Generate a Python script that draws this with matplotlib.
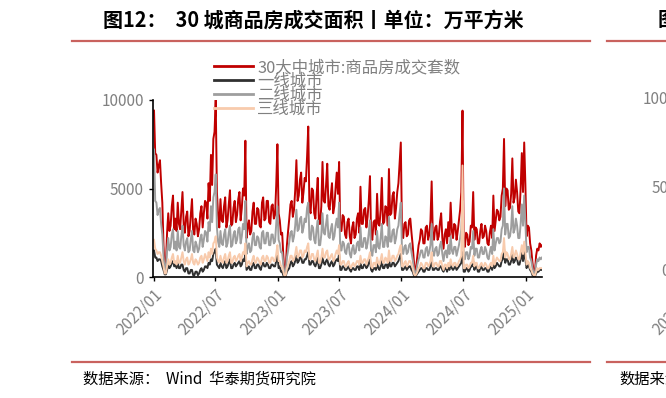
import numpy as np
import pandas as pd
import matplotlib
matplotlib.use("Agg")
import matplotlib.pyplot as plt
import matplotlib.dates as mdates
from matplotlib.lines import Line2D

plt.rcParams['font.family'] = ['Noto Sans CJK SC', 'DejaVu Sans']

series_names = ["30大中城市:商品房成交套数", "一线城市", "二线城市", "三线城市"]

# twice-weekly readings from 2022-01-01, one row per month
city30 = [
    9400, 7000, 6900, 5900, 6300, 6600, 5300, 4200, 1800, 500,
    700, 2500, 3600, 2600, 2900, 4000, 4600, 2700,
    3300, 2600, 4200, 3000, 2700, 3800, 4800, 3000,
    2500, 3400, 3700, 2300, 2600, 3500, 4400, 2600, 2400, 3300,
    3000, 2300, 2700, 3600, 4000, 2800, 3600, 4300,
    4200, 3300, 5300, 4300, 6900, 5200, 7800, 8200,
    10000, 4800, 3500, 2800, 4400, 3200, 3100, 4000, 4500, 2800,
    3200, 4100, 4900, 2900, 3000, 3900, 4300, 3100,
    3500, 4400, 4800, 3200, 3900, 5000, 4600, 7700,
    2200, 2800, 3200, 2400, 2600, 3700, 4200, 3000, 3000, 3900,
    3800, 2900, 2800, 4200, 4500, 3200, 3300, 4300,
    4300, 3100, 3000, 4000, 4100, 3300, 3500, 5200, 7500, 3600,
    # 2023
    3200, 2400, 2500, 1200, 200, 500, 1800, 2600,
    3300, 4100, 4300, 3400, 3800, 4900, 6600, 4300,
    4600, 5500, 5900, 4200, 4800, 5600, 5400, 6800,
    8500, 3800, 3600, 5000, 4900, 3600, 3300, 4600, 5600, 3000,
    3000, 4000, 6500, 4300, 4200, 5200, 6400, 4000,
    3800, 4600, 5300, 3600, 4000, 5000, 5900, 4700,
    6500, 2600, 2600, 3500, 3400, 2400, 2200, 3100, 3300, 2300,
    1900, 2800, 3100, 2200, 2400, 3300, 3600, 2500,
    5100, 3000, 3000, 3800, 3900, 2800, 3400, 4300, 5700, 2300,
    2100, 3100, 3200, 2400, 4700, 3000, 2900, 3800,
    5600, 3000, 3100, 4000, 3900, 2900, 6100, 3500,
    3600, 4600, 4800, 3300, 3900, 4800, 5300, 6400, 7600, 2600,
    # 2024
    2200, 3000, 3100, 2300, 2400, 3200, 3300, 2500,
    1800, 900, 100, 600, 1200, 1800, 2100, 2700,
    2600, 1900, 1900, 2800, 2900, 2100, 2400, 3200, 5400, 2300,
    2100, 2800, 2900, 2100, 2300, 3100, 3600, 2200,
    1600, 2400, 2700, 1900, 3100, 2300, 4200, 2600,
    2200, 3000, 2900, 2100, 2600, 3200, 3800, 4800, 9400, 2000,
    1700, 2500, 2400, 1800, 2000, 2900, 2800, 4800,
    2100, 2800, 2700, 1900, 1900, 2600, 3000, 2200, 2300, 2900,
    2600, 1900, 1800, 2500, 2900, 2200, 4600, 2600,
    3200, 3800, 3700, 3200, 3400, 4600, 5000, 7800,
    4000, 5000, 4900, 3800, 3900, 4700, 6700, 4200, 4500, 5500,
    4800, 3700, 3600, 5000, 7000, 4800, 7600, 5200,
    # 2025
    2300, 2900, 2800, 1900, 1500, 800, 300, 200,
    1200, 1600, 1500, 1900, 1700, 1800,
]

tier1 = [
    1500, 1100, 1100, 900, 1000, 1000, 900, 600, 400, 150,
    150, 400, 700, 500, 600, 800, 900, 600,
    700, 500, 800, 500, 500, 700, 700, 400,
    300, 500, 500, 200, 200, 400, 400, 100, 100, 300,
    300, 100, 200, 400, 500, 300, 400, 600,
    600, 500, 800, 700, 1000, 900, 1300, 1400,
    1600, 700, 600, 500, 800, 600, 500, 700, 900, 500,
    600, 800, 1000, 500, 500, 700, 800, 600,
    700, 800, 900, 600, 700, 1000, 900, 1300,
    400, 500, 600, 400, 400, 700, 800, 500, 500, 700,
    700, 500, 400, 700, 800, 600, 600, 800,
    700, 500, 500, 700, 700, 600, 600, 900, 1300, 500,
    # 2023
    600, 300, 300, 100, 0, 50, 300, 400,
    500, 800, 900, 600, 700, 900, 1200, 800,
    900, 1100, 1100, 800, 800, 1000, 1000, 1200,
    1400, 700, 700, 900, 900, 700, 600, 800, 1100, 500,
    500, 700, 1100, 800, 700, 900, 1000, 700,
    600, 800, 900, 600, 700, 900, 1000, 900,
    1300, 400, 400, 600, 600, 400, 400, 500, 600, 400,
    300, 500, 500, 400, 400, 600, 600, 400,
    800, 500, 500, 700, 700, 500, 600, 800, 1000, 400,
    300, 500, 500, 400, 800, 500, 400, 600,
    900, 500, 500, 700, 700, 500, 1000, 600,
    600, 800, 800, 600, 700, 800, 900, 1100, 1300, 400,
    # 2024
    400, 500, 600, 400, 500, 600, 600, 400,
    300, 100, 0, 100, 200, 300, 400, 500,
    500, 300, 300, 500, 500, 400, 400, 600, 1000, 400,
    400, 500, 500, 400, 400, 600, 600, 400,
    300, 500, 500, 300, 600, 400, 800, 500,
    400, 500, 600, 400, 500, 600, 700, 800, 1400, 300,
    300, 500, 500, 300, 400, 600, 600, 900,
    400, 600, 600, 300, 300, 500, 600, 400, 400, 500,
    500, 300, 300, 500, 600, 400, 900, 500,
    600, 800, 700, 600, 600, 900, 1000, 1600,
    800, 1000, 1000, 700, 700, 900, 1300, 800, 900, 1100,
    1000, 700, 700, 1000, 1400, 900, 1500, 1000,
    # 2025
    500, 700, 600, 400, 300, 100, 50, 30,
    200, 300, 300, 400, 400, 400,
]

tier2 = [
    7200, 4300, 4200, 3500, 3800, 3900, 3000, 2400, 1200, 400,
    500, 1500, 2200, 1500, 1700, 2400, 2700, 1600,
    2000, 1500, 2600, 1700, 1600, 2300, 2900, 1800,
    1500, 2000, 2200, 1400, 1500, 2100, 2600, 1500, 1400, 2000,
    1800, 1400, 1600, 2200, 2400, 1700, 2100, 2600,
    2500, 2000, 3100, 2600, 4000, 3100, 4500, 4800,
    5800, 2800, 2000, 1700, 2600, 1900, 1800, 2400, 2700, 1700,
    1900, 2500, 2900, 1700, 1800, 2400, 2600, 1900,
    2100, 2700, 2800, 1900, 2300, 3000, 2700, 4300,
    1300, 1700, 1900, 1400, 1500, 2200, 2500, 1800, 1800, 2300,
    2200, 1700, 1600, 2500, 2600, 1900, 1900, 2500,
    2500, 1800, 1800, 2400, 2400, 1900, 2000, 3000, 4000, 2100,
    # 2023
    1900, 1400, 1400, 700, 100, 300, 1100, 1500,
    2000, 2500, 2600, 2000, 2300, 2900, 3800, 2600,
    2700, 3300, 3400, 2500, 2800, 3300, 3100, 3900,
    4200, 2200, 2100, 2900, 2800, 2100, 1900, 2700, 3200, 1800,
    1800, 2400, 3600, 2500, 2400, 3000, 3500, 2300,
    2200, 2700, 3000, 2100, 2300, 2900, 3300, 2800,
    4200, 1500, 1500, 2000, 1900, 1400, 1300, 1800, 1900, 1300,
    1100, 1600, 1800, 1300, 1400, 1900, 2000, 1500,
    2800, 1700, 1700, 2200, 2200, 1600, 1900, 2500, 3200, 1300,
    1200, 1800, 1800, 1400, 2600, 1700, 1600, 2200,
    3000, 1700, 1700, 2300, 2200, 1700, 3400, 2000,
    2000, 2600, 2700, 1900, 2200, 2700, 2900, 3600, 4200, 1500,
    # 2024
    1300, 1700, 1800, 1300, 1400, 1800, 1900, 1400,
    1000, 500, 100, 300, 700, 1000, 1200, 1500,
    1500, 1100, 1100, 1600, 1700, 1200, 1400, 1800, 3000, 1300,
    1200, 1600, 1700, 1200, 1300, 1800, 2000, 1300,
    900, 1400, 1500, 1100, 1800, 1300, 2300, 1500,
    1300, 1700, 1700, 1200, 1500, 1800, 2200, 2700, 4300, 1100,
    1000, 1400, 1400, 1000, 1200, 1700, 1600, 2600,
    1200, 1600, 1600, 1100, 1100, 1500, 1700, 1300, 1300, 1700,
    1500, 1100, 1000, 1400, 1700, 1300, 2700, 1500,
    1900, 2200, 2200, 1900, 2000, 2700, 2900, 5000,
    2400, 3000, 3000, 2200, 2300, 2800, 4000, 2500, 2700, 3300,
    2900, 2200, 2200, 3000, 4100, 2900, 4600, 3100,
    # 2025
    1400, 1700, 1700, 1100, 900, 500, 200, 150,
    700, 1000, 900, 1100, 1000, 1100,
]

tier3 = [
    2100, 1600, 1500, 1300, 1400, 1400, 1200, 900, 600, 200,
    200, 600, 1000, 700, 800, 1100, 1300, 800,
    900, 700, 1200, 800, 800, 1100, 1400, 900,
    700, 1000, 1100, 700, 800, 1000, 1300, 800, 700, 1000,
    900, 700, 800, 1100, 1200, 800, 1000, 1300,
    1100, 900, 1400, 1100, 1600, 1300, 1900, 2000,
    2300, 1100, 900, 800, 1200, 900, 800, 1100, 1300, 800,
    900, 1200, 1400, 800, 800, 1100, 1200, 900,
    1000, 1200, 1300, 900, 1100, 1400, 1300, 1900,
    600, 800, 900, 700, 700, 1000, 1200, 800, 800, 1100,
    1000, 800, 700, 1100, 1200, 900, 900, 1200,
    1100, 800, 800, 1100, 1100, 900, 900, 1300, 1800, 900,
    # 2023
    900, 600, 600, 300, 50, 100, 500, 700,
    900, 1200, 1200, 900, 1000, 1300, 1700, 1100,
    1200, 1500, 1500, 1100, 1200, 1500, 1400, 1700,
    1900, 1000, 1000, 1300, 1300, 1000, 900, 1200, 1500, 800,
    800, 1100, 1600, 1100, 1100, 1400, 1500, 1000,
    1000, 1200, 1300, 900, 1000, 1300, 1500, 1300,
    1800, 700, 700, 900, 900, 600, 600, 800, 900, 600,
    500, 700, 800, 600, 700, 900, 900, 700,
    1200, 800, 800, 1000, 1000, 700, 900, 1100, 1400, 600,
    500, 800, 800, 600, 1100, 800, 700, 1000,
    1300, 800, 800, 1100, 1000, 800, 1500, 900,
    900, 1200, 1200, 900, 1000, 1200, 1300, 1600, 1800, 600,
    # 2024
    600, 800, 900, 600, 700, 900, 900, 700,
    500, 200, 50, 150, 300, 500, 600, 800,
    700, 500, 500, 800, 800, 600, 700, 900, 1400, 600,
    600, 800, 800, 600, 600, 900, 900, 600,
    400, 700, 700, 500, 800, 600, 1000, 700,
    600, 800, 800, 600, 700, 900, 1000, 1200, 6300, 500,
    500, 700, 700, 500, 600, 800, 800, 1200,
    600, 800, 800, 500, 500, 700, 800, 600, 600, 800,
    700, 500, 500, 700, 800, 600, 1200, 700,
    900, 1100, 1000, 900, 900, 1300, 1400, 2200,
    1100, 1400, 1300, 1000, 1000, 1300, 1700, 1100, 1200, 1500,
    1300, 1000, 1000, 1400, 1800, 1300, 2000, 1400,
    # 2025
    700, 900, 800, 500, 400, 200, 100, 80,
    300, 500, 400, 500, 500, 500,
]

dates = pd.date_range("2022-01-01", periods=len(city30), freq="84h")

colors = ["#C00000", "#303030", "#9E9E9E", "#F8CBAD"]
W, H = 666, 398


def fx(px):
    return px / W


def fy(py):
    return 1 - py / H


fig = plt.figure(figsize=(W / 100, H / 100), dpi=100)
ax = fig.add_axes([fx(153), fy(277), (542 - 153) / W, (277 - 100) / H])

for vals, name, c in zip([city30, tier1, tier2, tier3], series_names, colors):
    ax.plot(dates[:len(vals)], vals, color=c, lw=1.4, label=name)

ax.set_ylim(0, 10000)
ax.set_xlim(pd.Timestamp("2021-12-29"), dates[-1])
ax.set_yticks([0, 5000, 10000])
ax.xaxis.set_major_locator(mdates.MonthLocator(bymonth=[1, 7]))
ax.xaxis.set_major_formatter(mdates.DateFormatter("%Y/%m"))
for lbl in ax.get_xticklabels():
    lbl.set_rotation(45)
    lbl.set_ha("right")
    lbl.set_rotation_mode("anchor")
ax.tick_params(axis="both", colors="#000000", labelcolor="#808080",
               labelsize=11, length=3, width=1)
for s in ["top", "right"]:
    ax.spines[s].set_visible(False)
for s in ["left", "bottom"]:
    ax.spines[s].set_linewidth(1.2)

handles = [Line2D([], [], color=c, lw=2) for c in colors]
leg = fig.legend(handles, series_names, loc="upper left",
                 bbox_to_anchor=(fx(214), fy(59)), frameon=False,
                 fontsize=11.8, handlelength=2.4, handletextpad=0.25,
                 labelspacing=-0.18, borderpad=0, borderaxespad=0)
for t in leg.get_texts():
    t.set_color("#808080")

# header / footer
fig.text(fx(103), fy(20), "图12：  30 城商品房成交面积丨单位：万平方米",
         fontsize=14.4, fontweight="bold", ha="left", va="center")
fig.add_artist(Line2D([fx(72), fx(590)], [fy(40.5), fy(40.5)], color="#C9625E", lw=1.6))
fig.add_artist(Line2D([fx(72), fx(590)], [fy(362), fy(362)], color="#C9625E", lw=1.6))
fig.text(fx(83), fy(379), "数据来源：  Wind  华泰期货研究院", fontsize=11,
         ha="left", va="center")

# neighbouring chart, cut off at the right edge
fig.add_artist(Line2D([fx(607), fx(666)], [fy(40.5), fy(40.5)], color="#C9625E", lw=1.6))
fig.add_artist(Line2D([fx(607), fx(666)], [fy(362), fy(362)], color="#C9625E", lw=1.6))
fig.text(fx(658), fy(20), "图", fontsize=14.4, fontweight="bold", ha="left", va="center")
fig.text(fx(619), fy(379), "数据来源：", fontsize=11, ha="left", va="center")
fig.text(fx(643), fy(100), "10000", fontsize=11, color="#808080", ha="left", va="center")
fig.text(fx(652), fy(188), "5000", fontsize=11, color="#808080", ha="left", va="center")
fig.text(fx(661), fy(272), "0", fontsize=11, color="#808080", ha="left", va="center")
fig.text(fx(690), fy(286), "2022/01", fontsize=11, color="#808080", rotation=45,
         ha="right", va="top", rotation_mode="anchor")

fig.savefig("out.png", dpi=100)
